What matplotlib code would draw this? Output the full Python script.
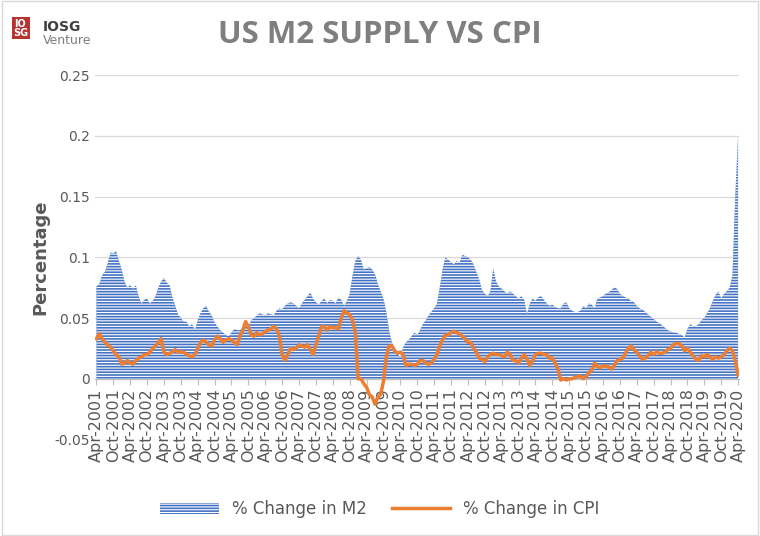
import numpy as np
import pandas as pd
import matplotlib.pyplot as plt
import matplotlib as mpl

mpl.rcParams['hatch.linewidth'] = 0.8

# Monthly data, Apr-2001 .. Apr-2020
m2_change = [
    .076, .078, .085, .088, .095, .104, .103, .105, .097,
    .090, .080, .075, .077, .074, .077, .068, .062, .065, .066, .062, .064,
    .068, .075, .080, .083, .079, .077, .067, .060, .053, .050, .047, .047,
    .043, .045, .040, .048, .054, .058, .060, .055, .052, .046, .043, .040,
    .038, .036, .035, .038, .041, .040, .040, .042, .045, .043, .048, .050,
    .052, .054, .053, .052, .054, .053, .052, .056, .058, .057, .060, .062,
    .063, .062, .060, .058, .062, .065, .068, .071, .066, .063, .061, .064,
    .066, .062, .065, .064, .062, .067, .065, .060, .064, .070, .085, .097,
    .101, .098, .090, .091, .092, .090, .086, .078, .072, .066, .055, .040,
    .030, .025, .020, .018, .026, .030, .032, .035, .038, .036, .040, .045,
    .048, .052, .055, .058, .062, .075, .090, .100, .098, .096, .094, .097,
    .095, .102, .101, .100, .098, .094, .088, .082, .073, .070, .068, .072,
    .091, .080, .076, .074, .072, .070, .072, .070, .068, .066, .068, .065,
    .053, .062, .066, .064, .067, .068, .065, .062, .060, .061, .059, .058,
    .058, .062, .063, .058, .056, .055, .055, .056, .060, .058, .062, .061,
    .058, .066, .067, .068, .070, .071, .073, .075, .074, .070, .068, .067,
    .066, .064, .063, .060, .058, .057, .055, .053, .051, .049, .047, .046,
    .044, .042, .040, .039, .038, .038, .037, .036, .034, .041, .045, .043,
    .043, .045, .048, .050, .054, .058, .064, .069, .072, .066, .070, .072,
    .075, .085, .150, .200,
]
cpi_change = [
    .033, .037, .033, .030, .028, .026, .023, .020, .018,
    .012, .013, .015, .013, .012, .015, .017, .018, .020, .020, .022, .025,
    .027, .030, .033, .022, .020, .021, .022, .024, .022, .022, .022, .020,
    .019, .018, .020, .025, .030, .032, .030, .028, .027, .032, .035, .033,
    .030, .032, .033, .032, .030, .028, .035, .040, .047, .043, .036, .035,
    .038, .036, .037, .039, .040, .041, .043, .041, .035, .020, .015, .020,
    .025, .024, .025, .028, .027, .026, .028, .024, .020, .028, .035, .043,
    .043, .040, .043, .042, .042, .041, .050, .056, .054, .053, .048, .038,
    .000, .000, -.004, -.007, -.013, -.015, -.021, -.015, -.013, -.002, .018, .027,
    .027, .023, .021, .022, .020, .011, .012, .012, .011, .012, .015, .015,
    .013, .012, .013, .016, .020, .027, .032, .036, .036, .038, .039, .038,
    .037, .035, .033, .030, .030, .025, .022, .017, .016, .014, .018, .020,
    .021, .020, .020, .019, .018, .022, .020, .015, .015, .013, .017, .020,
    .016, .011, .015, .020, .021, .021, .020, .020, .017, .017, .013, .008,
    -.001, .000, -.001, .000, .000, .001, .002, .002, .000, .002, .005, .007,
    .013, .010, .009, .011, .010, .010, .008, .011, .015, .016, .017, .021,
    .025, .027, .024, .022, .019, .016, .017, .019, .022, .020, .022, .021,
    .021, .022, .024, .025, .028, .029, .029, .027, .023, .025, .022, .019,
    .016, .015, .019, .018, .020, .018, .016, .018, .017, .018, .020, .023,
    .025, .023, .015, .003,
]
months = pd.date_range('2001-04-01', periods=len(m2_change), freq='MS')
tick_labels = [d.strftime('%b-%Y') for d in months[::6]]

grey = '#7f7f7f'
fig = plt.figure(figsize=(7.6, 5.36), dpi=100)
ax = fig.add_axes([0.125, 0.18, 0.848, 0.68])

x = np.arange(len(months))
ax.fill_between(x, 0, m2_change, facecolor='#4472C4', edgecolor='white',
                hatch='------', linewidth=0, label='% Change in M2', zorder=2)
ax.plot(x, cpi_change, color='#ED7D31', lw=2.5, label='% Change in CPI', zorder=3)

ax.set_xlim(-0.5, len(x) - 0.5)
ax.set_ylim(-0.05, 0.25)
ax.set_yticks([-0.05, 0, 0.05, 0.1, 0.15, 0.2, 0.25])
ax.set_yticklabels(['-0.05', '0', '0.05', '0.1', '0.15', '0.2', '0.25'])
ax.set_xticks(x[::6])
ax.set_xticklabels(tick_labels)
ax.spines['bottom'].set_position(('data', 0))
ax.tick_params(axis='x', length=4, color='#bfbfbf', pad=3, labelsize=11.5,
               labelcolor='#595959', labelrotation=90)
ax.tick_params(axis='y', length=0, labelsize=10, labelcolor='#595959')
for s in ['top', 'right', 'left']:
    ax.spines[s].set_visible(False)
ax.spines['bottom'].set_color('#bfbfbf')
ax.grid(axis='y', color='#d9d9d9', lw=0.9, zorder=0)
ax.set_axisbelow(True)
ax.set_ylabel('Percentage', fontsize=13, fontweight='bold', color='#595959')

fig.text(0.5, 0.935, 'US M2 SUPPLY VS CPI', ha='center', va='center',
         fontsize=22.5, fontweight='bold', color=grey, family='Open Sans')
fig.text(0.018, 0.965, 'IO\nSG', ha='left', va='top', fontsize=7, color='white',
         fontweight='bold', linespacing=0.9,
         bbox=dict(boxstyle='square,pad=0.15', facecolor='#b83232', edgecolor='none'))
fig.text(0.056, 0.962, 'IOSG', ha='left', va='top', fontsize=10, color='#404040', fontweight='bold')
fig.text(0.056, 0.937, 'Venture', ha='left', va='top', fontsize=9, color=grey)

fig.legend(loc='lower center', ncol=2, frameon=False, fontsize=12,
           bbox_to_anchor=(0.5, 0.005), handlelength=3.5, columnspacing=1.5,
           labelcolor='#595959')
fig.patches.append(plt.Rectangle((0.002, 0.002), 0.996, 0.996, transform=fig.transFigure,
                                 fill=False, edgecolor='#d9d9d9', lw=1))
fig.savefig('out.png')
